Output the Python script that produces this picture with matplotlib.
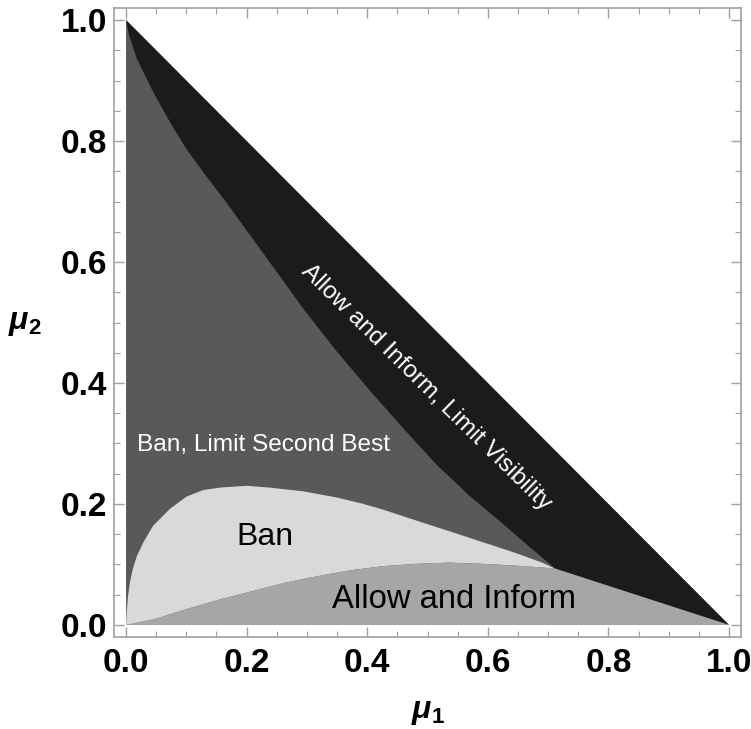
import matplotlib
matplotlib.use("Agg")
import matplotlib.pyplot as plt
import numpy as np

# Region boundaries (mu1, mu2)
# upper edge of the "limit visibility" band, from (0,1) down to the junction
vis_mu1 = [0.0, 0.005, 0.0176, 0.045, 0.073, 0.100, 0.133, 0.166, 0.200, 0.233,
           0.265, 0.293, 0.348, 0.403, 0.458, 0.514, 0.569, 0.624, 0.668, 0.712]
vis_mu2 = [1.0, 0.975, 0.937, 0.881, 0.831, 0.787, 0.742, 0.699, 0.652, 0.607,
           0.563, 0.524, 0.454, 0.389, 0.327, 0.266, 0.214, 0.168, 0.130, 0.093]

# upper edge of the "Ban" region
ban_mu1 = [0.0, 0.001, 0.003, 0.006, 0.011, 0.018, 0.029, 0.045, 0.073, 0.100,
           0.128, 0.155, 0.200, 0.238, 0.293, 0.348, 0.390, 0.425, 0.480, 0.536,
           0.591, 0.646, 0.690, 0.712]
ban_mu2 = [0.0, 0.020, 0.045, 0.068, 0.092, 0.114, 0.137, 0.164, 0.192, 0.212,
           0.223, 0.227, 0.230, 0.227, 0.221, 0.211, 0.201, 0.191, 0.173, 0.155,
           0.137, 0.119, 0.103, 0.093]

# upper edge of the "Allow and Inform" region
inf_mu1 = [0.0, 0.045, 0.100, 0.155, 0.210, 0.265, 0.320, 0.370, 0.425, 0.480,
           0.536, 0.591, 0.646, 0.690, 0.712]
inf_mu2 = [0.0, 0.009, 0.026, 0.042, 0.056, 0.070, 0.081, 0.090, 0.097, 0.101,
           0.103, 0.101, 0.098, 0.095, 0.093]

labels = ["Ban, Limit Second Best", "Ban", "Allow and Inform",
          "Allow and Inform, Limit Visibility"]

plt.rcParams['mathtext.fontset'] = 'custom'
plt.rcParams['mathtext.it'] = 'Liberation Sans:bold:italic'
plt.rcParams['mathtext.rm'] = 'Liberation Sans:bold'
plt.rcParams['mathtext.bf'] = 'Liberation Sans:bold'

fig = plt.figure(figsize=(7.51, 7.29), dpi=100)
ax = fig.add_axes([114 / 751, 92 / 729, 627 / 751, 629 / 729])

# whole triangle, dark gray
ax.fill([0, 0, 1], [0, 1, 0], color='#595959', lw=0)

# black band: hypotenuse, then back along junction line and visibility curve
ax.fill([0, 1] + vis_mu1[::-1], [1, 0] + vis_mu2[::-1], color='#1b1b1b', lw=0)

# ban region between ban curve and inform curve
ax.fill(ban_mu1 + inf_mu1[::-1], ban_mu2 + inf_mu2[::-1], color='#d9d9d9', lw=0)

# allow and inform region
ax.fill(inf_mu1 + [1.0], inf_mu2 + [0.0], color='#a6a6a6', lw=0)

# region labels
ax.text(0.018, 0.298, labels[0], color='white', fontsize=17.6,
        family='Liberation Sans', ha='left', va='center')
ax.text(0.23, 0.145, labels[1], color='black', fontsize=23,
        family='Liberation Sans', ha='center', va='center')
ax.text(0.544, 0.042, labels[2], color='black', fontsize=23.6,
        family='Liberation Sans', ha='center', va='center')
ax.text(0.497, 0.393, labels[3], color='white', fontsize=17.6,
        family='Liberation Sans', ha='center', va='center',
        rotation=-44.5, rotation_mode='anchor')

ax.set_xlim(-0.02, 1.02)
ax.set_ylim(-0.02, 1.02)

frame_col = '#a0a0a0'
for s in ax.spines.values():
    s.set_color(frame_col)
    s.set_linewidth(1.2)

ticks = np.arange(0, 1.01, 0.2)
ax.set_xticks(ticks)
ax.set_yticks(ticks)
ax.set_xticks(np.arange(0, 1.01, 0.05), minor=True)
ax.set_yticks(np.arange(0, 1.01, 0.05), minor=True)
ax.set_xticklabels([f"{t:.1f}" for t in ticks])
ax.set_yticklabels([f"{t:.1f}" for t in ticks])
ax.tick_params(which='both', direction='in', top=True, right=True, color=frame_col)
ax.tick_params(which='major', length=7, width=1)
ax.tick_params(which='minor', length=4, width=0.8)
ax.tick_params(axis='x', which='major', pad=8)
ax.tick_params(axis='y', which='major', pad=5)
for lab in ax.get_xticklabels() + ax.get_yticklabels():
    lab.set_fontfamily('Liberation Sans')
    lab.set_fontweight('bold')
    lab.set_fontsize(24)

ax.set_xlabel(r'$\mu_1$', fontsize=23, labelpad=12)
ax.set_ylabel(r'$\mu_2$', fontsize=23, rotation=0, labelpad=26, va='center')

fig.savefig('out.png', dpi=100)
